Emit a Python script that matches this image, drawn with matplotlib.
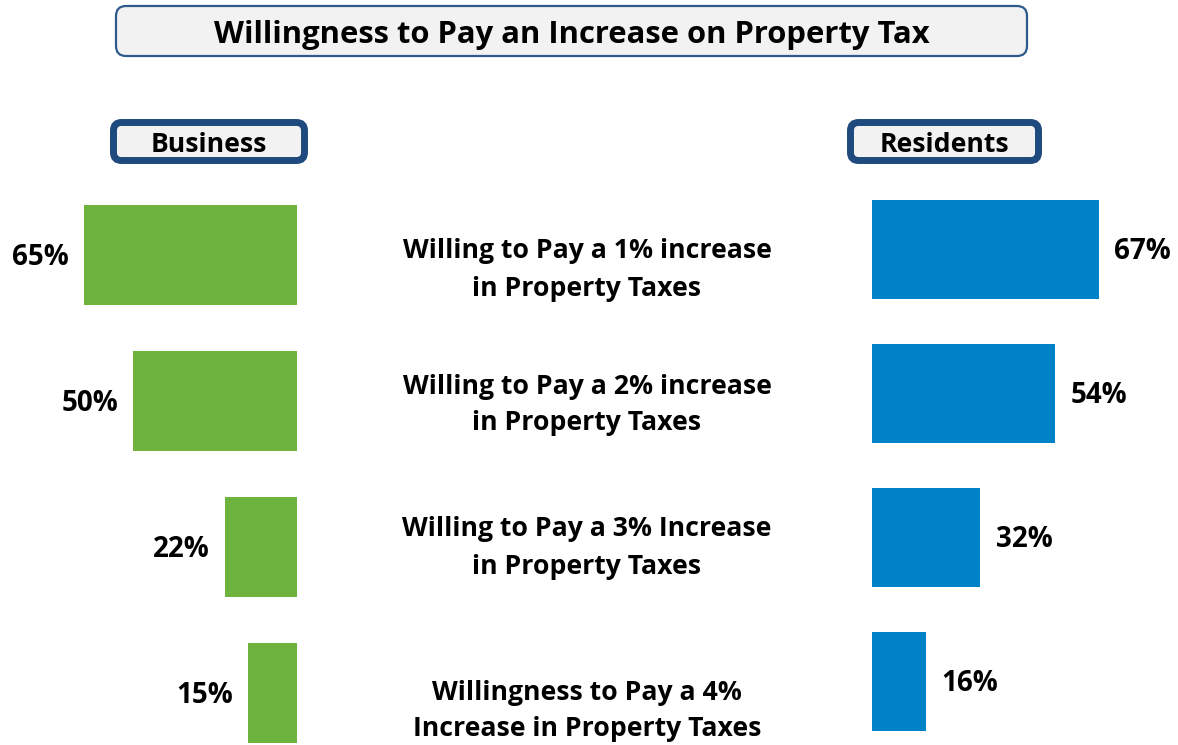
import matplotlib.pyplot as plt
from matplotlib.patches import FancyBboxPatch

plt.rcParams['font.family'] = ['Open Sans', 'DejaVu Sans']

# data
questions = [
    "Willing to Pay a 1% increase\nin Property Taxes",
    "Willing to Pay a 2% increase\nin Property Taxes",
    "Willing to Pay a 3% Increase\nin Property Taxes",
    "Willingness to Pay a 4%\nIncrease in Property Taxes",
]
business = [65, 50, 22, 15]
residents = [67, 54, 32, 16]

title = "Willingness to Pay an Increase on Property Tax"
green = "#6FB33F"
blue = "#0082C8"
navy = "#1F4A7D"

fig = plt.figure(figsize=(11.78, 7.45), dpi=100)

# overlay in pixel coords for the boxes and middle text
ov = fig.add_axes([0, 0, 1, 1])
ov.set_xlim(0, 1178)
ov.set_ylim(745, 0)
ov.axis('off')

ov.add_patch(FancyBboxPatch((116, 6), 911, 50, boxstyle="round,pad=0,rounding_size=10",
                            fc="#F2F2F2", ec="#2F5B8C", lw=1.6))
ov.text(571.5, 35, title, ha='center', va='center', fontsize=22.3, fontweight='bold')

for x0, x1, label in [(113.5, 304.5, "Business"), (850.5, 1038.5, "Residents")]:
    ov.add_patch(FancyBboxPatch((x0, 122.5), x1 - x0, 38, boxstyle="round,pad=0,rounding_size=8",
                                fc="#F2F2F2", ec=navy, lw=5))
    ov.text((x0 + x1) / 2, 145, label, ha='center', va='center', fontsize=19.2, fontweight='bold')

text_y = [270, 405, 548, 711]
for q, y in zip(questions, text_y):
    ov.text(587, y, q, ha='center', va='center', fontsize=19.2, fontweight='bold', linespacing=1.55)

# business bars (grow to the left)
axb = fig.add_axes([0, 0, 297 / 1178, 1 - 182 / 745])
pos = range(len(business))
axb.barh(pos, business, height=0.69, color=green)
axb.set_xlim(90.8, 0)
axb.set_ylim(3.356, -0.5)
axb.axis('off')
for i, v in enumerate(business):
    axb.annotate(f"{v}%", (v, i), xytext=(-11, -1.5), textcoords='offset points',
                 ha='right', va='center', fontsize=20, fontweight='bold')

# residents bars
axr = fig.add_axes([872 / 1178, 0, 306 / 1178, 1 - 177.5 / 745])
axr.barh(pos, residents, height=0.69, color=blue)
axr.set_xlim(0, 90.3)
axr.set_ylim(3.441, -0.5)
axr.axis('off')
for i, v in enumerate(residents):
    axr.annotate(f"{v}%", (v, i), xytext=(11, -1.5), textcoords='offset points',
                 ha='left', va='center', fontsize=20, fontweight='bold')

fig.savefig("out.png", dpi=100)
